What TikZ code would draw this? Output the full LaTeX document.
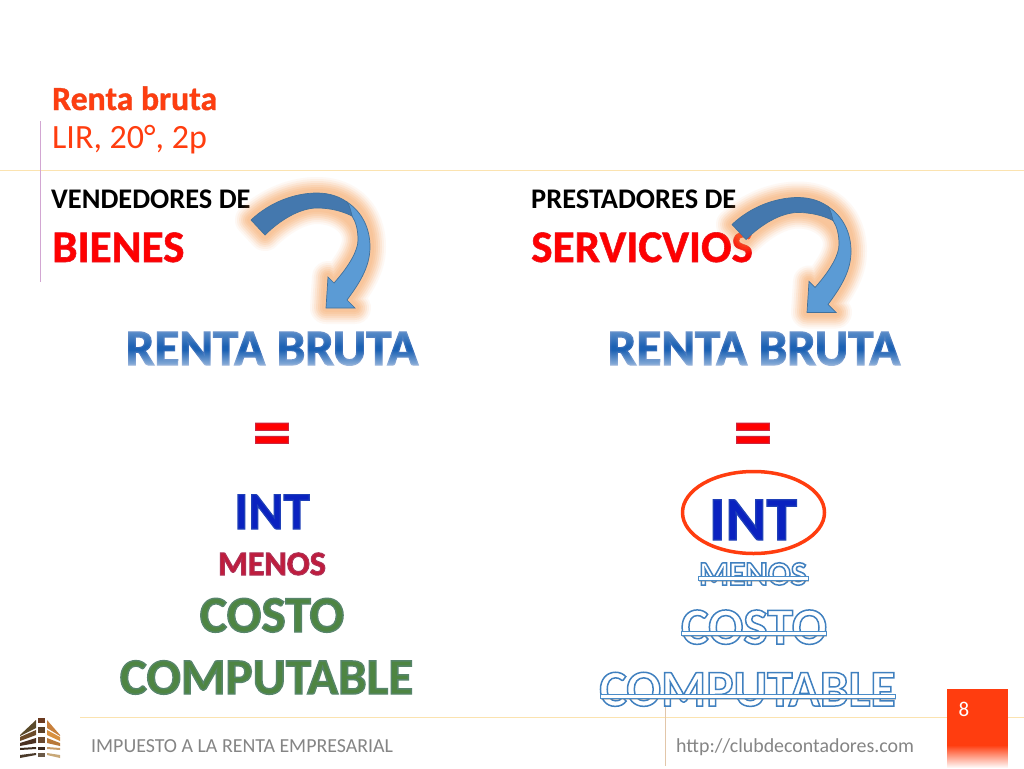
\documentclass[tikz,border=0pt]{standalone}
\usepackage{fontspec}
\setmainfont{Carlito}
\usetikzlibrary{fadings,shadows}
\definecolor{rentared}{HTML}{FF3D0F}
\definecolor{ruleyellow}{HTML}{FBE3B0}
\definecolor{arrowdark}{HTML}{4478AE}
\definecolor{arrowlight}{HTML}{5B9BD5}
\definecolor{arrowline}{HTML}{41719C}
\definecolor{glow}{HTML}{F79646}
\definecolor{bluetext}{HTML}{1C62B4}
\definecolor{greentext}{HTML}{4E8542}
\definecolor{menosred}{HTML}{C01C3C}
\definecolor{inkblue}{HTML}{0A22C0}
\definecolor{outlineblue}{HTML}{4A8CC8}
\definecolor{footgray}{HTML}{858585}
\tikzset{
txt/.style={inner sep=0pt, anchor=base west},
mid/.style={inner sep=0pt, anchor=base},
big/.style={font=\fontsize{#1}{#1}\selectfont\bfseries},
foot/.style={txt, text=footgray, font=\fontsize{19.9}{20}\selectfont},
hairline/.style={draw=ruleyellow, line width=1pt},
bar/.style={fill=white, draw=outlineblue, line width=0.9pt, drop shadow={shadow xshift=1pt, shadow yshift=-1.5pt, opacity=0.4}}
}
% outlined letters
\newcommand{\hollow}[1]{\special{pdf:code q 1 Tr 1.5 w 0.25 0.5 0.75 RG 0.8 0.89 0.97 rg}#1\special{pdf:code Q}}
% letters with a soft edge: width, stroke colour, text
\newcommand{\halo}[3]{\special{pdf:code q 2 Tr #1 w #2 RG}#3\special{pdf:code Q}}
\newcommand{\curvedarrow}{
\foreach \w/\o in {32/0.06,28/0.08,24/0.1,20/0.12,16/0.12,12/0.12,8/0.1}{
\draw[glow, line width=\w pt, opacity=\o, line join=round]
(251,220) .. controls (270,202) and (295,193) .. (317,193) .. controls (350,193) and (370,215) .. (370,247)
.. controls (370,268) and (358,285) .. (347,300) -- (355,308) -- (326,308) -- (328,277) -- (334,283)
.. controls (350,265) and (358,250) .. (358,240) .. controls (358,222) and (340,208) .. (317,208) .. controls (300,208) and (280,220) .. (265,235) -- cycle;
}
\draw[fill=arrowlight, draw=arrowline, line width=0.7pt] (347,202) .. controls (362,212) and (370,228) .. (370,247)
.. controls (370,268) and (358,285) .. (347,300) -- (355,308) -- (326,308) -- (328,277) -- (334,283)
.. controls (350,265) and (358,250) .. (358,240) .. controls (358,230) and (356,222) .. (352,216) -- cycle;
\draw[fill=arrowdark, draw=arrowline, line width=0.7pt] (251,220) .. controls (270,202) and (295,193) .. (317,193)
.. controls (330,193) and (340,197) .. (347,202) .. controls (350,206) and (351,212) .. (352,216)
.. controls (342,211) and (330,208) .. (317,208) .. controls (300,208) and (280,220) .. (265,235) -- cycle;
}
\begin{document}
\begin{tikzpicture}[x=1pt,y=-1pt]
\useasboundingbox (0,0) rectangle (1024,768);
\fill[white] (0,0) rectangle (1024,768);
% rules
\draw[hairline] (0,170) -- (1024,170);
\draw[hairline] (80,717) -- (1024,717);
\draw[draw=violet!35, line width=0.8pt] (40,121) -- (40,282);
\draw[draw=brown!45, line width=0.8pt] (665,705) -- (665,766);
% title
\node[txt, big=33.7, text=rentared] (title) at (52,110) {\halo{0.4}{0.9 0.3 0.15}{Renta bruta}};
\node[txt, text=rentared, font=\fontsize{34}{35}\selectfont] (source) at (52,148) {LIR, 20°, 2p};
% headings
\node[txt, big=28.4] (sellers) at (51,208) {VENDEDORES DE};
\node[txt, big=28.4] (providers) at (531,208) {PRESTADORES DE};
\node[txt, big=45.2, text=red] (goods) at (52,262) {\halo{0.6}{0.9 0.1 0.15}{BIENES}};
\node[txt, big=45.2, text=red] (services) at (531,262) {\halo{0.6}{0.9 0.1 0.15}{SERVICVIOS}};
% arrows
\curvedarrow
\begin{scope}[shift={(481,4.5)}]
\curvedarrow
\end{scope}
% left column
\node[mid, big=51, text=bluetext] (grossleft) at (272,365) {\halo{1.2}{0.2 0.42 0.72}{RENTA BRUTA}};
\node[mid, big=78, text=red] (equalleft) at (272,458) {\halo{1}{0.8 0.15 0.25}{=}};
\node[mid, big=53, text=inkblue] (intleft) at (272,529) {\halo{1.2}{0.12 0.25 0.72}{INT}};
\node[mid, big=34, text=menosred] (minusleft) at (272,575) {\halo{1}{0.68 0.2 0.35}{MENOS}};
\node[mid, big=51.5, text=greentext] (costleft) at (272,632) {\halo{1.4}{0.34 0.52 0.42}{COSTO}};
\node[mid, big=51, text=greentext] (compleft) at (266.5,694) {\halo{1.4}{0.34 0.52 0.42}{COMPUTABLE}};
% right column
\node[mid, big=51, text=bluetext] (grossright) at (754,365) {\halo{1.2}{0.2 0.42 0.72}{RENTA BRUTA}};
\fill[white, fill opacity=0.6, path fading=north] (120,350) rectangle (905,368);
\fill[white, fill opacity=0.3, path fading=south] (120,330) rectangle (905,346);
\node[mid, big=78, text=red] (equalright) at (753,458) {\halo{1}{0.8 0.15 0.25}{=}};
\node[mid, big=62, text=inkblue] (intright) at (753,540) {\halo{1.3}{0.12 0.25 0.72}{INT}};
\draw[draw=rentared, line width=3.5pt] (753.5,512.5) ellipse (71 and 41);
\node[mid, big=34] (minusright) at (753,585) {\hollow{MENOS}};
\node[mid, big=52] (costright) at (754,644) {\hollow{COSTO}};
\node[mid, big=51.5] (compright) at (747.5,706) {\hollow{COMPUTABLE}};
\draw[bar] (698,576.5) rectangle (808,580);
\draw[bar] (681,631.5) rectangle (826,635);
\draw[bar] (600,694.5) rectangle (895,698);
% footer
\foreach \y/\h/\m/\a/\dark/\light in {
720/728/736/735/5A4A2A/C8803C,
730/735/741/737/6B4A28/D89040,
738/743/746/743/4A3020/B87838,
747/749/750/748/3C2A1C/C89C68,
753/755/758/755/4A3A2A/C8A878}{
\definecolor{logoa}{HTML}{\dark}
\definecolor{logob}{HTML}{\light}
\fill[logoa] (36,\y) -- (36,\h) -- (20,\m) -- (20,\a) -- cycle;
\fill[logob] (47,\y) -- (47,\h) -- (60,\m) -- (60,\a) -- cycle;
}
\foreach \y/\h/\c in {718/723/6B3A20, 727/733/5A4028, 737/743/6B4A30, 747/750/3C2A20, 753/757/6B5A48}{
\definecolor{logoc}{HTML}{\c}
\fill[logoc] (38,\y) rectangle (45,\h);
}
\node[foot] (course) at (91,752) {IMPUESTO A LA RENTA EMPRESARIAL};
\node[foot] (site) at (676,752) {http://clubdecontadores.com};
\fill[rentared] (947,689) rectangle (1008,745);
\fill[rentared, path fading=south] (947,745) rectangle (1008,768);
\node[mid, text=white, font=\fontsize{21}{22}\selectfont] (page) at (964,716) {8};
\end{tikzpicture}
\end{document}
